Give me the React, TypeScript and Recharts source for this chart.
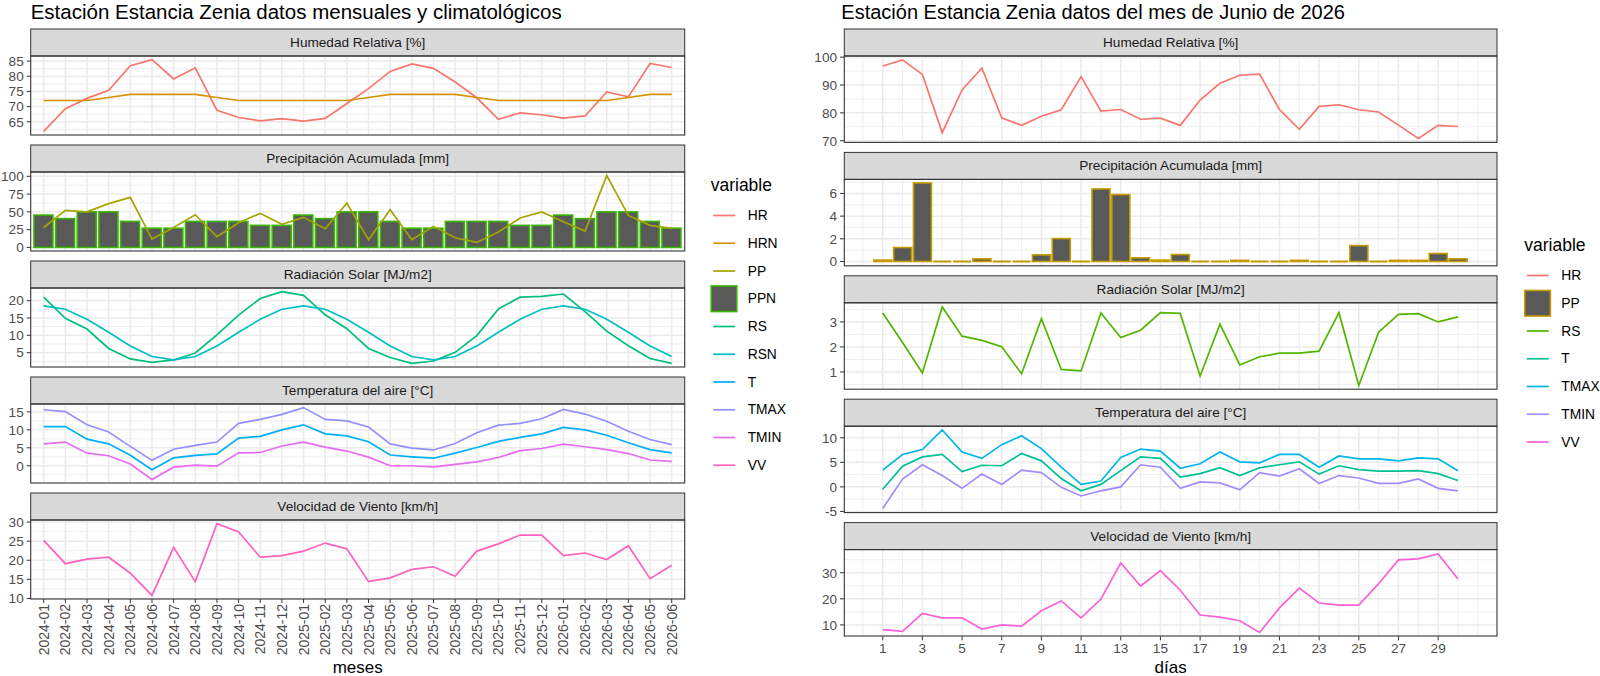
import React from "react";
import { ComposedChart, Line, Bar, XAxis, YAxis, CartesianGrid } from "recharts";

// ---- monthly data (left) ----
const MONTHS = [
  "2024-01", "2024-02", "2024-03", "2024-04", "2024-05", "2024-06",
  "2024-07", "2024-08", "2024-09", "2024-10", "2024-11", "2024-12",
  "2025-01", "2025-02", "2025-03", "2025-04", "2025-05", "2025-06",
  "2025-07", "2025-08", "2025-09", "2025-10", "2025-11", "2025-12",
  "2026-01", "2026-02", "2026-03", "2026-04", "2026-05", "2026-06",
];
const HR = [61.8, 69.3, 72.7, 75.4, 83.5, 85.5, 79.1, 82.8, 68.8, 66.4, 65.3, 66.0, 65.2, 66.1, 71.0, 75.9, 81.6, 84.1, 82.6, 78.1, 72.9, 65.8, 67.9, 67.3, 66.2, 66.9, 74.8, 73.2, 84.2, 82.9];
const HRN = [72, 72, 72, 73, 74, 74, 74, 74, 73, 72, 72, 72, 72, 72, 72, 73, 74, 74, 74, 74, 73, 72, 72, 72, 72, 72, 72, 73, 74, 74];
const PP = [28, 52, 50, 61.5, 70.4, 11.7, 28, 46, 15, 34.7, 47.9, 32.4, 42.3, 26.3, 62, 10.8, 53, 10.8, 29.6, 13.6, 7, 21.6, 41.3, 49.8, 36, 23, 101, 45, 31, 26.8];
const PPN = [45.5, 40.5, 50, 50, 36.5, 27, 27, 36.5, 36.5, 36.5, 31, 31, 45.5, 40.5, 50, 50, 36.5, 27, 27, 36.5, 36.5, 36.5, 31, 31, 45.5, 40.5, 50, 50, 36.5, 27];
const RS = [21, 14.9, 11.8, 6.2, 3.2, 2.2, 2.9, 4.9, 10.1, 15.8, 20.6, 22.6, 21.5, 15.9, 11.9, 6.2, 3.6, 1.9, 2.6, 5.1, 9.9, 17.6, 21, 21.2, 21.9, 16.8, 11.2, 7.0, 3.3, 1.9];
const RSN = [18.5, 17.5, 14.6, 10.9, 6.9, 3.9, 2.9, 3.9, 6.9, 10.9, 14.6, 17.5, 18.5, 17.5, 14.6, 10.9, 6.9, 3.9, 2.9, 3.9, 6.9, 10.9, 14.6, 17.5, 18.5, 17.5, 14.6, 10.9, 6.9, 3.9];
const T = [10.9, 10.9, 7.4, 6.1, 2.9, -1.1, 2.2, 2.9, 3.3, 7.7, 8.2, 10.0, 11.4, 8.9, 8.3, 6.7, 3.0, 2.5, 2.1, 3.5, 5.1, 6.8, 7.9, 8.9, 10.7, 10.0, 8.5, 6.4, 4.5, 3.6];
const TMAX = [15.6, 15.1, 11.4, 9.4, 5.4, 1.5, 4.6, 5.7, 6.6, 11.8, 12.9, 14.3, 16.2, 12.9, 12.5, 10.8, 6.1, 4.9, 4.4, 6.2, 9.2, 11.3, 11.8, 13.1, 15.7, 14.4, 12.4, 9.6, 7.3, 5.9];
const TMIN = [6.1, 6.6, 3.5, 2.8, 0.5, -3.8, -0.4, 0.2, -0.1, 3.6, 3.7, 5.5, 6.6, 5.2, 4.1, 2.4, 0, 0, -0.3, 0.4, 1.1, 2.3, 4.2, 4.8, 6.0, 5.3, 4.5, 3.4, 1.6, 1.2];
const VV = [25.2, 19.1, 20.3, 20.8, 16.6, 10.8, 23.4, 14.4, 29.6, 27.4, 20.8, 21.2, 22.4, 24.5, 23.0, 14.4, 15.4, 17.6, 18.3, 15.8, 22.4, 24.3, 26.6, 26.6, 21.2, 21.9, 20.2, 23.8, 15.2, 18.7];

// ---- daily data, June 2026 (right) ----
const DAYS = [1, 2, 3, 4, 5, 6, 7, 8, 9, 10, 11, 12, 13, 14, 15, 16, 17, 18, 19, 20, 21, 22, 23, 24, 25, 26, 27, 28, 29, 30];
const HR_D = [96.8, 99.0, 93.8, 72.9, 88.2, 96.1, 78.2, 75.5, 78.8, 81.1, 93.0, 80.6, 81.2, 77.7, 78.1, 75.5, 84.6, 90.6, 93.5, 93.9, 81.2, 74.1, 82.3, 82.9, 81.1, 80.3, 75.6, 70.8, 75.5, 75.1];
const PP_D = [0.12, 1.23, 6.93, 0, 0, 0.23, 0, 0, 0.58, 2.02, 0, 6.4, 5.9, 0.32, 0.12, 0.61, 0, 0, 0.1, 0, 0, 0.1, 0, 0, 1.4, 0, 0.1, 0.1, 0.7, 0.23];
const RS_D = [3.36, 2.18, 0.96, 3.6, 2.43, 2.26, 2.01, 0.93, 3.13, 1.1, 1.04, 3.36, 2.38, 2.67, 3.37, 3.34, 0.84, 2.91, 1.28, 1.61, 1.75, 1.75, 1.83, 3.37, 0.46, 2.59, 3.3, 3.33, 3.0, 3.2];
const T_D = [-0.5, 4.2, 6.1, 6.6, 3.1, 4.4, 4.3, 6.8, 5.3, 1.7, -0.8, 0.5, 3.3, 6.1, 5.8, 2.0, 2.7, 3.9, 2.3, 3.9, 4.5, 5.1, 2.6, 4.3, 3.5, 3.2, 3.2, 3.3, 2.7, 1.3];
const TMAX_D = [3.4, 6.6, 7.6, 11.6, 7.1, 5.8, 8.6, 10.4, 7.8, 4.0, 0.5, 1.2, 6.0, 7.7, 7.3, 3.8, 4.7, 7.1, 5.1, 4.9, 6.6, 6.6, 4.0, 6.3, 5.7, 5.7, 5.3, 5.9, 5.7, 3.3];
const TMIN_D = [-4.4, 1.6, 4.5, 2.3, -0.3, 2.6, 0.5, 3.4, 2.9, -0.1, -1.85, -0.8, 0, 4.5, 4.0, -0.3, 1.0, 0.8, -0.6, 2.9, 2.2, 3.7, 0.7, 2.3, 1.8, 0.7, 0.7, 1.6, -0.3, -0.8];
const VV_D = [8.2, 7.5, 14.4, 12.7, 12.7, 8.4, 10.0, 9.5, 15.4, 19.2, 12.7, 19.9, 33.7, 24.9, 30.8, 23.3, 13.8, 13.0, 11.6, 7.1, 16.5, 24.1, 18.4, 17.6, 17.6, 25.8, 34.9, 35.3, 37.2, 27.6];

const DAY_TICKS = [1, 3, 5, 7, 9, 11, 13, 15, 17, 19, 21, 23, 25, 27, 29];
const DAY_MINOR = [0, 2, 4, 6, 8, 10, 12, 14, 16, 18, 20, 22, 24, 26, 28, 30, 31];

const LEFT_COLORS: Record<string, string> = {
  HR: "#F8766D", HRN: "#D89000", PP: "#A3A500", PPN: "#39B600", RS: "#00BF7D",
  RSN: "#00BFC4", T: "#00B0F6", TMAX: "#9590FF", TMIN: "#E76BF3", VV: "#FF62BC",
};
const RIGHT_COLORS: Record<string, string> = {
  HR: "#F8766D", PP: "#C49A00", RS: "#53B400", T: "#00C094",
  TMAX: "#00B6EB", TMIN: "#A58AFF", VV: "#FB61D7",
};

const FONT = '"Liberation Sans", Arial, Helvetica, sans-serif';
const BAR_FILL = "#595959";
const TICK_SIZE = 13.6;

const monthRows = MONTHS.map((m, k) => ({
  i: k + 1, HR: HR[k], HRN: HRN[k], PP: PP[k], PPN: PPN[k], RS: RS[k], RSN: RSN[k],
  T: T[k], TMAX: TMAX[k], TMIN: TMIN[k], VV: VV[k],
}));
const dayRows = DAYS.map((d, k) => ({
  i: d, HR: HR_D[k], PP: PP_D[k], RS: RS_D[k], T: T_D[k], TMAX: TMAX_D[k], TMIN: TMIN_D[k], VV: VV_D[k],
}));

type Series = { key: string; bar?: boolean };
type FacetSpec = { strip: string; yTicks: number[]; yMinor: number[]; series: Series[] };

const LEFT_FACETS: FacetSpec[] = [
  { strip: "Humedad Relativa [%]", yTicks: [65, 70, 75, 80, 85], yMinor: [62.5, 67.5, 72.5, 77.5, 82.5], series: [{ key: "HR" }, { key: "HRN" }] },
  { strip: "Precipitación Acumulada [mm]", yTicks: [0, 25, 50, 75, 100], yMinor: [12.5, 37.5, 62.5, 87.5], series: [{ key: "PPN", bar: true }, { key: "PP" }] },
  { strip: "Radiación Solar [MJ/m2]", yTicks: [5, 10, 15, 20], yMinor: [2.5, 7.5, 12.5, 17.5, 22.5], series: [{ key: "RS" }, { key: "RSN" }] },
  { strip: "Temperatura del aire [°C]", yTicks: [0, 5, 10, 15], yMinor: [-2.5, 2.5, 7.5, 12.5], series: [{ key: "T" }, { key: "TMAX" }, { key: "TMIN" }] },
  { strip: "Velocidad de Viento [km/h]", yTicks: [10, 15, 20, 25, 30], yMinor: [12.5, 17.5, 22.5, 27.5], series: [{ key: "VV" }] },
];
const RIGHT_FACETS: FacetSpec[] = [
  { strip: "Humedad Relativa [%]", yTicks: [70, 80, 90, 100], yMinor: [75, 85, 95], series: [{ key: "HR" }] },
  { strip: "Precipitación Acumulada [mm]", yTicks: [0, 2, 4, 6], yMinor: [1, 3, 5, 7], series: [{ key: "PP", bar: true }] },
  { strip: "Radiación Solar [MJ/m2]", yTicks: [1, 2, 3], yMinor: [0.5, 1.5, 2.5, 3.5], series: [{ key: "RS" }] },
  { strip: "Temperatura del aire [°C]", yTicks: [-5, 0, 5, 10], yMinor: [-2.5, 2.5, 7.5], series: [{ key: "T" }, { key: "TMAX" }, { key: "TMIN" }] },
  { strip: "Velocidad de Viento [km/h]", yTicks: [10, 20, 30], yMinor: [15, 25, 35], series: [{ key: "VV" }] },
];

type Side = {
  x: number; w: number; top0: number; step: number; strip: number; h: number;
  axisW: number; xDomain: [number, number]; bottomH: number;
};
const LEFT: Side = { x: 30.7, w: 654, top0: 29, step: 116, strip: 27, h: 79, axisW: 30.7, xDomain: [0.4, 30.6], bottomH: 76 };
const RIGHT: Side = { x: 844.3, w: 652.7, top0: 29, step: 123.4, strip: 27, h: 86.4, axisW: 44, xDomain: [-0.95, 31.95], bottomH: 36 };
const PAD = 10; // room above/below each panel so edge tick labels are not cut

// ggplot-style 5% expansion of the data range
function expand(rows: any[], series: Series[]): [number, number] {
  const vals: number[] = [];
  series.forEach((s) => {
    rows.forEach((r) => vals.push(r[s.key]));
    if (s.bar) vals.push(0);
  });
  const lo = Math.min(...vals);
  const hi = Math.max(...vals);
  const e = (hi - lo) * 0.05;
  return [lo - e, hi + e];
}

const MonthTick = (props: any) => {
  const { x, y, payload } = props;
  return (
    <text x={x} y={y} transform={`rotate(-90 ${x} ${y})`} textAnchor="end" dominantBaseline="central" fill="#4D4D4D" fontSize={14}>
      {MONTHS[payload.value - 1]}
    </text>
  );
};

const barShape = (stroke: string) => (p: any) => {
  const { x, y, width, height } = p;
  if (!height || Math.abs(height) < 0.6) {
    return <line x1={x} x2={x + width} y1={y} y2={y} stroke={stroke} strokeWidth={2} />;
  }
  return <rect x={x} y={y} width={width} height={height} fill={BAR_FILL} stroke={stroke} strokeWidth={1.6} />;
};

function Facet({ side, k, spec, rows, colors, xTicks, xMinor, last, tick }: any) {
  const top = side.top0 + side.step * k + side.strip;
  const domain = expand(rows, spec.series);
  return (
    <div style={{ position: "absolute", left: side.x - side.axisW, top: top - PAD }}>
      <ComposedChart
        width={side.axisW + side.w}
        height={side.h + PAD + (last ? side.bottomH : PAD)}
        data={rows}
        margin={{ top: PAD, right: 0, bottom: last ? 0 : PAD, left: 0 }}
        barCategoryGap="5%"
      >
        {xMinor && <CartesianGrid horizontal={false} verticalValues={xMinor} stroke="#EBEBEB" strokeWidth={0.8} />}
        <CartesianGrid horizontalValues={spec.yMinor} vertical={false} stroke="#EBEBEB" strokeWidth={0.8} />
        <CartesianGrid horizontalValues={spec.yTicks} verticalValues={xTicks} stroke="#EBEBEB" strokeWidth={1.5} />
        <XAxis
          dataKey="i"
          type="number"
          domain={side.xDomain}
          ticks={xTicks}
          allowDataOverflow
          hide={!last}
          height={side.bottomH}
          interval={0}
          tickSize={4}
          tickMargin={last && tick ? 1 : 3}
          axisLine={false}
          tickLine={{ stroke: "#333333" }}
          tick={tick || { fill: "#4D4D4D", fontSize: TICK_SIZE }}
        />
        <YAxis
          type="number"
          domain={domain}
          ticks={spec.yTicks}
          allowDataOverflow
          width={side.axisW}
          interval={0}
          tickSize={4}
          tickMargin={3}
          axisLine={false}
          tickLine={{ stroke: "#333333" }}
          tick={{ fill: "#4D4D4D", fontSize: TICK_SIZE }}
        />
        {spec.series.map((s: Series) =>
          s.bar ? (
            <Bar key={s.key} dataKey={s.key} fill={BAR_FILL} stroke={colors[s.key]} isAnimationActive={false} shape={barShape(colors[s.key])} />
          ) : (
            <Line key={s.key} type="linear" dataKey={s.key} stroke={colors[s.key]} strokeWidth={1.7} dot={false} isAnimationActive={false} />
          )
        )}
      </ComposedChart>
    </div>
  );
}

function Frames({ side, facets }: { side: Side; facets: FacetSpec[] }) {
  return (
    <>
      {facets.map((f, k) => {
        const sTop = side.top0 + side.step * k;
        return (
          <g key={f.strip}>
            <rect x={side.x} y={sTop} width={side.w} height={side.strip} fill="#D9D9D9" stroke="#333333" strokeWidth={1} />
            <text x={side.x + side.w / 2} y={sTop + side.strip / 2} textAnchor="middle" dominantBaseline="central" fontSize={13.6} fill="#1A1A1A">
              {f.strip}
            </text>
            <rect x={side.x} y={sTop + side.strip} width={side.w} height={side.h} fill="none" stroke="#333333" strokeWidth={1.1} />
          </g>
        );
      })}
    </>
  );
}

function LegendBox({ x, y, keys, colors, barKey }: any) {
  return (
    <g>
      <text x={x} y={y} dominantBaseline="central" fontSize={17.5} fill="#000">variable</text>
      {keys.map((key: string, n: number) => {
        const cy = y + 30.5 + n * 27.75;
        return (
          <g key={key}>
            {key === barKey ? (
              <rect x={x + 0.5} y={cy - 12.8} width={25.6} height={25.6} fill={BAR_FILL} stroke={colors[key]} strokeWidth={1.6} />
            ) : (
              <line x1={x + 2.5} x2={x + 24.5} y1={cy} y2={cy} stroke={colors[key]} strokeWidth={1.7} />
            )}
            <text x={x + 37} y={cy} dominantBaseline="central" fontSize={13.8} fill="#000">{key}</text>
          </g>
        );
      })}
    </g>
  );
}

export default function App() {
  return (
    <div style={{ position: "absolute", left: 0, top: 0, width: 1600, height: 676, background: "#fff", fontFamily: FONT }}>
      {LEFT_FACETS.map((f, k) => (
        <Facet key={"l" + k} side={LEFT} k={k} spec={f} rows={monthRows} colors={LEFT_COLORS}
          xTicks={DAYS} last={k === LEFT_FACETS.length - 1} tick={MonthTick} />
      ))}
      {RIGHT_FACETS.map((f, k) => (
        <Facet key={"r" + k} side={RIGHT} k={k} spec={f} rows={dayRows} colors={RIGHT_COLORS}
          xTicks={DAY_TICKS} xMinor={DAY_MINOR} last={k === RIGHT_FACETS.length - 1} />
      ))}
      <svg width={1600} height={676} style={{ position: "absolute", left: 0, top: 0, pointerEvents: "none" }}>
        <text x={LEFT.x} y={19} fontSize={20.5} fill="#000">Estación Estancia Zenia datos mensuales y climatológicos</text>
        <text x={RIGHT.x - 3} y={19} fontSize={20} fill="#000">Estación Estancia Zenia datos del mes de Junio de 2026</text>
        <Frames side={LEFT} facets={LEFT_FACETS} />
        <Frames side={RIGHT} facets={RIGHT_FACETS} />
        <text x={LEFT.x + LEFT.w / 2} y={673} textAnchor="middle" fontSize={17} fill="#000">meses</text>
        <text x={RIGHT.x + RIGHT.w / 2} y={673} textAnchor="middle" fontSize={17} fill="#000">días</text>
        <LegendBox x={710.7} y={185} keys={Object.keys(LEFT_COLORS)} colors={LEFT_COLORS} barKey="PPN" />
        <LegendBox x={1524.3} y={245} keys={Object.keys(RIGHT_COLORS)} colors={RIGHT_COLORS} barKey="PP" />
      </svg>
    </div>
  );
}
